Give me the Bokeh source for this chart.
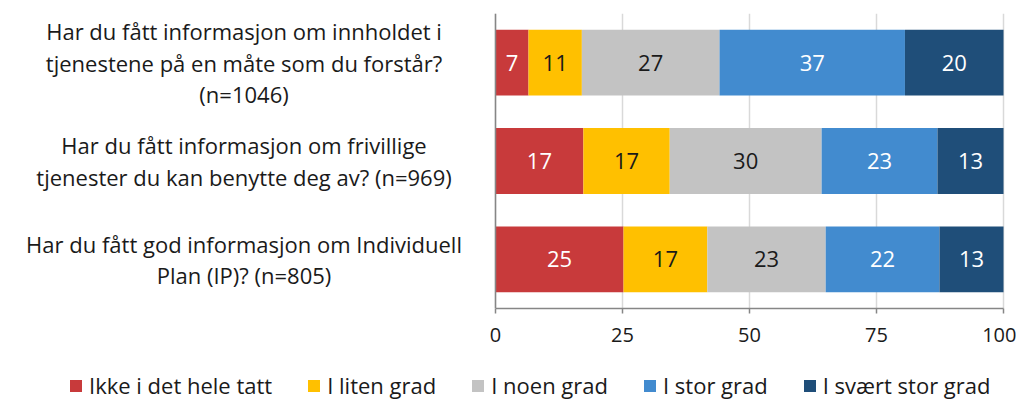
import numpy as np
from bokeh.plotting import figure
from bokeh.layouts import column
from bokeh.models import ColumnDataSource, FactorRange, FixedTicker, Span, Range1d, Legend
from bokeh.core.properties import value
from bokeh.embed import file_html
from bokeh.resources import INLINE

categories = [
    "Har du fått informasjon om innholdet i\ntjenestene på en måte som du forstår?\n(n=1046)",
    "Har du fått informasjon om frivillige\ntjenester du kan benytte deg av? (n=969)",
    "Har du fått god informasjon om Individuell\nPlan (IP)? (n=805)",
]
series_names = ["Ikke i det hele tatt", "I liten grad", "I noen grad", "I stor grad", "I svært stor grad"]
ikke = [6.5, 17.3, 25.2]
liten = [10.5, 17.0, 16.5]
noen = [27.1, 29.9, 23.3]
stor = [36.5, 22.8, 22.4]
svaert = [19.4, 13.0, 12.6]
labels_ikke = ["7", "17", "25"]
labels_liten = ["11", "17", "17"]
labels_noen = ["27", "30", "23"]
labels_stor = ["37", "23", "22"]
labels_svaert = ["20", "13", "13"]
ticks = [0, 25, 50, 75, 100]

colors = ["#C83A3B", "#FFC000", "#C3C3C3", "#428BCF", "#1F4E79"]
text_colors = ["white", "#1a1a1a", "#1a1a1a", "white", "white"]
FONT = "Open Sans"

keys = ["ikke", "liten", "noen", "stor", "svaert"]
vals = [ikke, liten, noen, stor, svaert]
labs = [labels_ikke, labels_liten, labels_noen, labels_stor, labels_svaert]

data = {"cat": categories}
for k, v in zip(keys, vals):
    data[k] = v
source = ColumnDataSource(data)

px_per_unit = 5.08
x_start = -487 / px_per_unit
x_end = x_start + 1008 / px_per_unit

p = figure(
    frame_width=1008, frame_height=295,
    y_range=FactorRange(*reversed(categories)),
    x_range=Range1d(x_start, x_end),
    output_backend="svg", toolbar_location=None,
    min_border_left=8, min_border_right=0, min_border_top=13, min_border_bottom=60,
)
p.outline_line_color = None
p.background_fill_color = "white"

renderers = p.hbar_stack(keys, y="cat", height=0.67, color=colors, line_color=None, source=source)

# data labels
cum = np.zeros(len(categories))
for v, lab, tc in zip(vals, labs, text_colors):
    v = np.array(v)
    centers = cum + v / 2
    cum = cum + v
    p.text(x=list(centers), y=categories, text=lab, text_align="center", text_baseline="middle",
           text_font=value(FONT), text_font_size="22px", text_color=tc)

# category labels
p.text(x=[-49.5] * len(categories), y=categories, text=categories, text_align="center",
       text_baseline="middle", text_font=value(FONT), text_font_size="22px",
       text_color="#1a1a1a", text_line_height=1.04, y_offset=0)

p.yaxis.visible = False
p.ygrid.visible = False
p.add_layout(Span(location=0, dimension="height", line_color="#868686", line_width=1.5))

p.xaxis.ticker = FixedTicker(ticks=ticks)
p.xaxis.bounds = (0, 100)
p.xaxis.axis_line_color = "#868686"
p.xaxis.axis_line_width = 1.5
p.xaxis.major_tick_line_color = "#868686"
p.xaxis.major_tick_line_width = 1.5
p.xaxis.major_tick_out = 5
p.xaxis.major_tick_in = 0
p.xaxis.minor_tick_line_color = None
p.xaxis.major_label_text_font = FONT
p.xaxis.major_label_text_font_size = "20px"
p.xaxis.major_label_text_color = "#1a1a1a"
p.xaxis.major_label_standoff = 14
p.xgrid.ticker = FixedTicker(ticks=ticks)
p.xgrid.grid_line_color = "#d9d9d9"
p.xgrid.grid_line_width = 1.5

# legend figure (swatches drawn from off-screen proxy glyphs)
lf = figure(width=1016, height=32, x_range=Range1d(0, 1), y_range=Range1d(0, 1),
            output_backend="svg", toolbar_location=None, min_border=0)
lf.axis.visible = False
lf.grid.visible = False
lf.outline_line_color = None
leg_renderers = [lf.rect(x=[-5], y=[-5], width=0.1, height=0.1, fill_color=c, line_color=None)
                 for c in colors]

legend = Legend(
    items=[(name, [r]) for name, r in zip(series_names, leg_renderers)],
    orientation="horizontal", location=(60, 0),
    label_text_font=FONT, label_text_font_size="22px", label_text_color="#1a1a1a",
    glyph_width=15, glyph_height=15, spacing=34, label_standoff=6,
    border_line_color=None, background_fill_alpha=0, padding=0, margin=0,
)
lf.add_layout(legend, "center")

open("out.html", "w").write(file_html(column(p, lf, spacing=0), INLINE))
